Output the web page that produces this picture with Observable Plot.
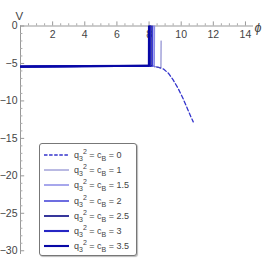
<!DOCTYPE html>
<html><head><meta charset="utf-8">
<script src="https://cdn.jsdelivr.net/npm/d3@7"></script>
<script src="https://cdn.jsdelivr.net/npm/@observablehq/plot@0.6"></script>
<style>
body{margin:0;background:#fff;}
#wrap{position:relative;width:267px;height:267px;font-family:"Liberation Sans",Arial,sans-serif;}
#legend{position:absolute;left:39px;top:143px;width:96px;height:111px;border:1px solid #777;border-radius:3px;background:#fff;box-shadow:1px 1px 1px #bbb;}
.row{position:absolute;left:4px;height:14px;display:flex;align-items:center;font-size:9px;color:#444;white-space:nowrap;}
.row svg{margin-right:4px;}
.row sub,.row sup{font-size:7px;line-height:0;}
</style></head><body><div id="wrap"></div>
<script>
// series parameters (q3^2 = cB)
const cLabels = ["0", "1", "1.5", "2", "2.5", "3", "3.5"];
const seriesColors = ["#3434cc", "#5050b8", "#8a8ae6", "#3c3cd6", "#12128a", "#2626c4", "#0808a6"];
const seriesWidths = [1.3, 0.8, 1.5, 1.5, 1.7, 2.1, 2.1];
const seriesDash = ["4,2.5", null, null, null, null, null, null];

// values: phi and V for each curve
const phiC0 = [0, 4, 8, 8.3, 8.6, 8.9, 9.2, 9.5, 9.8, 10.1, 10.4, 10.6, 10.75];
const vC0   = [-5.42, -5.36, -5.3, -5.4, -5.52, -5.75, -6.3, -7.2, -8.3, -9.6, -11.1, -12.1, -12.8];
const phiC1 = [0, 4, 8, 8.3, 8.6, 8.74, 8.75];
const vC1   = [-5.42, -5.36, -5.3, -5.4, -5.52, -5.6, -2];
const phiC15 = [0, 4, 8, 8.32, 8.34];
const vC15   = [-5.42, -5.36, -5.3, -5.38, 3];
const phiC2 = [0, 4, 8, 8.21, 8.22];
const vC2   = [-5.42, -5.36, -5.3, -5.35, 3];
const phiC25 = [0, 4, 8, 8.11, 8.12];
const vC25   = [-5.42, -5.36, -5.3, -5.33, 3];
const phiC3 = [0, 4, 8, 8.05, 8.06];
const vC3   = [-5.42, -5.36, -5.3, -5.31, 3];
const phiC35 = [0, 4, 7.9, 7.99, 8.0];
const vC35   = [-5.42, -5.36, -5.3, -5.3, 3];

const phiSeries = [phiC0, phiC1, phiC15, phiC2, phiC25, phiC3, phiC35];
const vSeries = [vC0, vC1, vC15, vC2, vC25, vC3, vC35];

// ticks
const xMajor = [2, 4, 6, 8, 10, 12, 14];
const xMinor = d3.range(0.5, 14.5, 0.5).filter(v => v % 2 !== 0);
const yMajor = [0, -5, -10, -15, -20, -25, -30];
const yMinor = d3.range(-1, -31, -1).filter(v => v % 5 !== 0);

const xDomain = [0, 14.5];
const yDomain = [-30.5, 0];

const lineMarks = cLabels.map((c, k) => {
  const rows = phiSeries[k].map((p, i) => ({phi: p, V: vSeries[k][i]}));
  return Plot.line(rows, {
    x: "phi", y: "V", stroke: seriesColors[k], strokeWidth: seriesWidths[k],
    strokeDasharray: seriesDash[k] || undefined, clip: true, strokeLinejoin: "miter"
  });
});

const fmt = d => d === 0 ? "0" : (d < 0 ? "\u2212" + (-d) : String(d));

const chart = Plot.plot({
  width: 267, height: 267,
  marginLeft: 20, marginRight: 14, marginTop: 25.5, marginBottom: 13,
  x: {domain: xDomain, axis: null},
  y: {domain: yDomain, axis: null},
  style: {fontFamily: "Liberation Sans, Arial, sans-serif", background: "white"},
  marks: [
    Plot.ruleY([0], {x1: xDomain[0], x2: xDomain[1], stroke: "#999", strokeWidth: 1}),
    Plot.ruleX([0], {y1: yDomain[0], y2: yDomain[1], stroke: "#999", strokeWidth: 1}),
    Plot.ruleX(xMinor, {x: d => d, y1: 0, y2: 0.3, stroke: "#aaa"}),
    Plot.ruleX(xMajor, {x: d => d, y1: 0, y2: 0.55, stroke: "#999"}),
    Plot.ruleY(yMinor, {y: d => d, x1: 0, x2: 0.15, stroke: "#aaa"}),
    Plot.ruleY(yMajor, {y: d => d, x1: 0, x2: 0.26, stroke: "#999"}),
    Plot.text(xMajor, {x: d => d, y: 0, dy: 9, text: fmt, fontSize: 10.5, fill: "#444"}),
    Plot.text(yMajor, {x: 0, y: d => d, dx: -3, textAnchor: "end", text: fmt, fontSize: 10.5, fill: "#444"}),
    ...lineMarks,
    Plot.text(["V"], {frameAnchor: "top-left", dx: -5, dy: -14, text: d => d, fontSize: 11.5, fill: "#444"}),
    Plot.text(["\u03d5"], {frameAnchor: "top-right", dx: 8, dy: -3, text: d => d, fontSize: 12.5, fontStyle: "italic", fill: "#444"})
  ]
});

const wrap = document.getElementById("wrap");
wrap.appendChild(chart);

// legend
const legend = d3.select(wrap).append("div").attr("id", "legend");
cLabels.forEach((c, k) => {
  const row = legend.append("div").attr("class", "row").style("top", (4 + k * 15.2) + "px");
  const svg = row.append("svg").attr("width", 26).attr("height", 10);
  svg.append("line").attr("x1", 0).attr("x2", 25).attr("y1", 5).attr("y2", 5)
    .attr("stroke", seriesColors[k]).attr("stroke-width", seriesWidths[k])
    .attr("stroke-dasharray", seriesDash[k] ? "3.5,1.6" : null);
  row.append("span").html("q<sub>3</sub><sup>2</sup> = c<sub>B</sub> = " + c);
});
</script>
</body></html>
